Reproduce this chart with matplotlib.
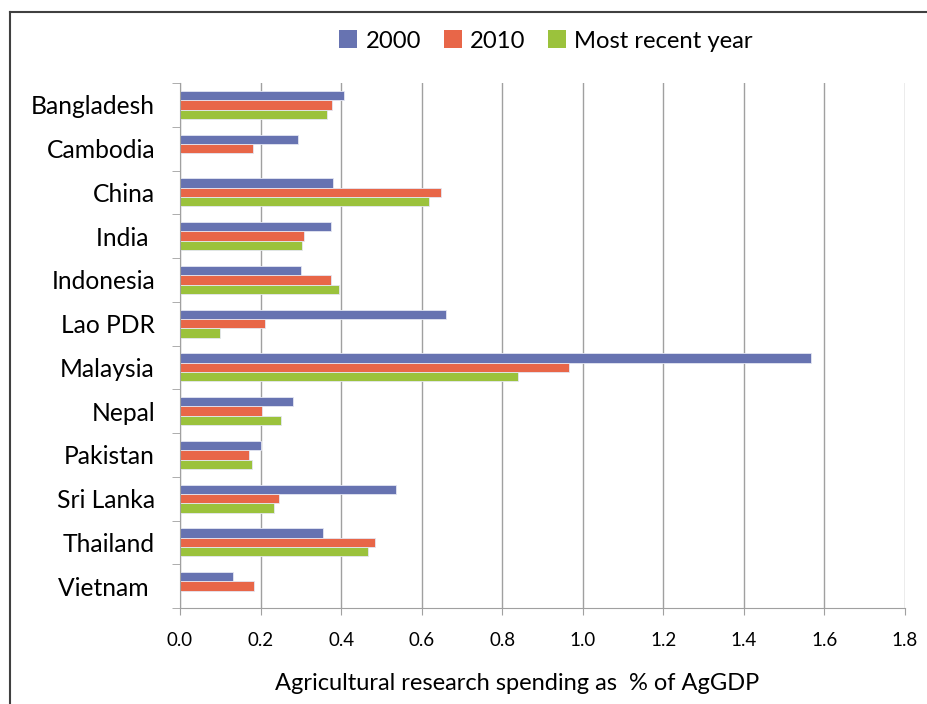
import matplotlib.pyplot as plt
import numpy as np
from matplotlib.lines import Line2D
from matplotlib.patches import Patch

countries = ['Bangladesh', 'Cambodia', 'China', 'India ', 'Indonesia', 'Lao PDR',
             'Malaysia', 'Nepal', 'Pakistan', 'Sri Lanka', 'Thailand', 'Vietnam ']
y2000 = [0.407, 0.294, 0.381, 0.376, 0.301, 0.660, 1.567, 0.280, 0.202, 0.537, 0.354, 0.131]
y2010 = [0.378, 0.182, 0.649, 0.309, 0.374, 0.210, 0.965, 0.204, 0.171, 0.245, 0.485, 0.185]
recent = [0.366, np.nan, 0.619, 0.303, 0.395, 0.099, 0.839, 0.250, 0.180, 0.234, 0.467, np.nan]
series_names = ['2000', '2010', 'Most recent year']
colors = ['#6773B1', '#E86648', '#9BC23C']

plt.rcParams['font.family'] = ['Lato', 'DejaVu Sans']

fig = plt.figure(figsize=(9.27, 7.04), dpi=100)
ax = fig.add_axes([180 / 927, 1 - 608 / 704, (904.8 - 180) / 927, (608 - 83) / 704])

# cadre exterieur : seuls les bords haut et gauche sont visibles
fx, fy = 10 / 927, 1 - 12 / 704
fig.add_artist(Line2D([fx, fx], [0, fy], transform=fig.transFigure, color='#404040', linewidth=1.5))
fig.add_artist(Line2D([fx, 1], [fy, fy], transform=fig.transFigure, color='#404040', linewidth=1.5))

pos = np.arange(len(countries))
h = 0.213
for k, (vals, col) in enumerate(zip([y2000, y2010, recent], colors)):
    ax.barh(pos + (k - 1) * h, vals, height=h, color=col,
            edgecolor='#E4E6F2', linewidth=0.6)

ax.set_xlim(0, 1.8)
ax.set_ylim(len(countries) - 0.5, -0.5)
ax.set_xticks(np.arange(0, 1.81, 0.2))
ax.set_xticklabels([f'{v:.1f}' for v in np.arange(0, 1.81, 0.2)], fontsize=13.5)
ax.set_yticks(pos)
ax.set_yticklabels(countries, fontsize=17.7)
ax.set_yticks(np.arange(-0.5, len(countries), 1), minor=True)
ax.tick_params(axis='y', which='major', length=0, pad=18)
ax.tick_params(axis='y', which='minor', length=6, color='#A0A0A0', direction='out')
ax.tick_params(axis='x', length=5, color='#A0A0A0', pad=12)
ax.grid(axis='x', color='#A0A0A0', linewidth=1)
ax.set_axisbelow(True)
for s in ['top', 'right']:
    ax.spines[s].set_visible(False)
for s in ['left', 'bottom']:
    ax.spines[s].set_color('#A0A0A0')

ax.set_xlabel('Agricultural research spending as  % of AgGDP', fontsize=17)
ax.xaxis.set_label_coords(0.465, -0.124)

handles = [Patch(facecolor=c, edgecolor='none') for c in colors]
fig.legend(handles, series_names, loc='center', bbox_to_anchor=(546 / 927, 1 - 41 / 704),
           ncol=3, frameon=False, fontsize=17.2, handlelength=0.75, handleheight=0.75,
           handletextpad=0.35, columnspacing=0.95)

fig.savefig('out.png', dpi=100)
